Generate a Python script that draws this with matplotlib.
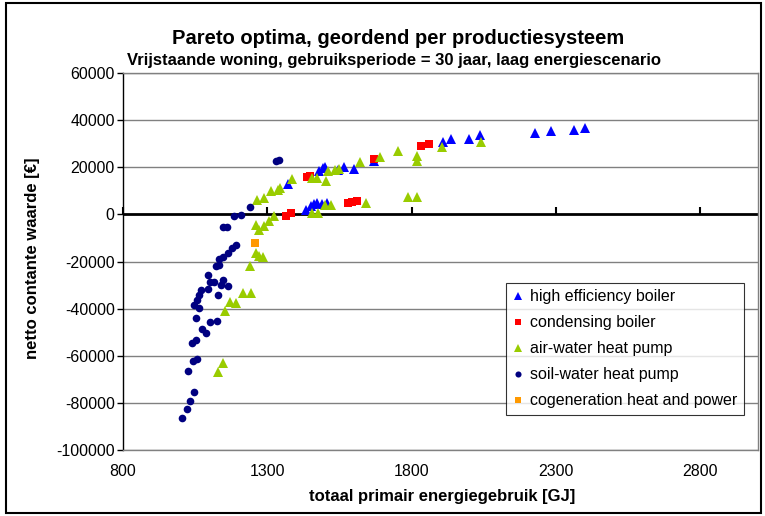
import matplotlib
matplotlib.use("Agg")
import matplotlib.pyplot as plt
from matplotlib.patches import Rectangle

plt.rcParams['font.family'] = ['Liberation Sans', 'DejaVu Sans']

# ---- data ----
he_x = [1370, 1433, 1451, 1462, 1473, 1489, 1508, 1479, 1493, 1500, 1546, 1567,
        1600, 1668, 1907, 1937, 1999, 2036, 2229, 2282, 2361, 2401]
he_y = [12800, 1900, 3600, 4300, 5000, 4300, 4700, 18200, 19600, 20300, 18900, 20300,
        19200, 22700, 30600, 31900, 31900, 33700, 34500, 35200, 35600, 36600]

cb_x = [1364, 1382, 1439, 1447, 1580, 1595, 1612, 1669, 1833, 1861]
cb_y = [-500, 500, 15800, 16400, 4800, 5300, 5500, 23400, 29100, 29900]

aw_x = [1129, 1146, 1152, 1171, 1192, 1217, 1244, 1241, 1262, 1270, 1286, 1261,
        1272, 1290, 1307, 1324, 1263, 1287, 1313, 1336, 1345, 1384, 1456, 1473,
        1505, 1509, 1535, 1548, 1620, 1690, 1752, 1820, 1820, 1906, 2039, 1456,
        1476, 1500, 1522, 1641, 1788, 1818]
aw_y = [-66700, -62900, -41000, -37000, -37700, -33500, -33500, -22000, -16500, -17500, -17900, -4500,
        -6600, -4900, -2600, -900, 6200, 6900, 10100, 10400, 11400, 14900, 15400, 15400,
        14200, 18300, 18700, 19100, 22100, 24300, 27000, 24600, 22800, 28600, 30800, 600,
        600, 3800, 3800, 5000, 7200, 7200]

sw_x = [1006, 1020, 1033, 1046, 1025, 1042, 1056, 1039, 1054, 1073, 1086, 1102,
        1126, 1054, 1045, 1063, 1056, 1063, 1129, 1071, 1094, 1138, 1165, 1100,
        1117, 1148, 1094, 1123, 1134, 1134, 1146, 1163, 1178, 1192, 1146, 1161,
        1184, 1210, 1241, 1330, 1340]
sw_y = [-86500, -82700, -79000, -75200, -66500, -62100, -61500, -54400, -53300, -48700, -50200, -45500,
        -45200, -44100, -38400, -39800, -36300, -34200, -34200, -32100, -31800, -29900, -30400, -28500,
        -28500, -27800, -25700, -21900, -21400, -19000, -17900, -16500, -14400, -12900, -5400, -5400,
        -700, -300, 3200, 22500, 23000]

chp_x = [1258]
chp_y = [-12200]

x_ticks = [800, 1300, 1800, 2300, 2800]
y_ticks = [-100000, -80000, -60000, -40000, -20000, 0, 20000, 40000, 60000]

title = "Pareto optima, geordend per productiesysteem"
subtitle = "Vrijstaande woning, gebruiksperiode = 30 jaar, laag energiescenario"
xlabel = "totaal primair energiegebruik [GJ]"
ylabel = "netto contante waarde [€]"

# ---- figure ----
fig = plt.figure(figsize=(7.65, 5.16), dpi=100)
ax = fig.add_axes([123/765, 1-450/516, (758-123)/765, (450-73)/516])

ax.set_xlim(800, 3000)
ax.set_ylim(-100000, 60000)
ax.set_yticks(y_ticks)
ax.set_xticks(x_ticks)
ax.set_yticklabels([str(v) for v in y_ticks], fontsize=11.5)
ax.set_xticklabels([str(v) for v in x_ticks], fontsize=11.5)
ax.tick_params(axis='x', length=0, pad=10)
ax.tick_params(axis='y', length=4, width=1, direction='out', pad=2)

for v in y_ticks:
    if v != 0:
        ax.axhline(v, color='#808080', lw=1, zorder=0)
ax.axhline(0, color='black', lw=2, zorder=1)

# x tick marks on the zero line
sec = ax.secondary_xaxis(100000/160000)
sec.set_xticks(x_ticks)
sec.set_xticklabels([''] * len(x_ticks))
sec.tick_params(length=5, width=1.5, direction='out')
sec.spines['bottom'].set_visible(False)
sec.spines['top'].set_visible(False)

for s in ['top', 'right', 'bottom']:
    ax.spines[s].set_color('#808080')
    ax.spines[s].set_linewidth(1)
ax.spines['left'].set_color('black')
ax.spines['left'].set_linewidth(1)

ax.plot(he_x, he_y, '^', color='#0000FF', ms=6.5, mew=0, label='high efficiency boiler', zorder=3)
ax.plot(cb_x, cb_y, 's', color='#FF0000', ms=5.5, mew=0, label='condensing boiler', zorder=3)
ax.plot(aw_x, aw_y, '^', color='#99CC00', ms=7, mew=0, label='air-water heat pump', zorder=3)
ax.plot(sw_x, sw_y, 'o', color='#000080', ms=5.5, mew=0, label='soil-water heat pump', zorder=3)
ax.plot(chp_x, chp_y, 's', color='#FF9900', ms=5.5, mew=0, label='cogeneration heat and power', zorder=3)

leg = ax.legend(loc='upper right', bbox_to_anchor=(0.978, 0.443), fontsize=11.5,
                frameon=True, fancybox=False, borderpad=0.4, labelspacing=0.69,
                handlelength=0.7, handletextpad=0.45, markerscale=0.8, borderaxespad=0)
leg.get_frame().set_edgecolor('black')
leg.get_frame().set_linewidth(0.8)

fig.text(398/765, 1-38/516, title, ha='center', va='center', fontsize=14.5, fontweight='bold')
fig.text(394/765, 1-60/516, subtitle, ha='center', va='center', fontsize=12, fontweight='bold')
fig.text(442/765, 1-497/516, xlabel, ha='center', va='center', fontsize=12, fontweight='bold')
fig.text(33/765, 1-258/516, ylabel, ha='center', va='center', fontsize=12, fontweight='bold', rotation=90)

fig.patches.append(Rectangle((6/765, 3/516), 755/765, 510/516, transform=fig.transFigure,
                             fill=False, edgecolor='black', lw=1.5))

fig.savefig('out.png', dpi=100)
